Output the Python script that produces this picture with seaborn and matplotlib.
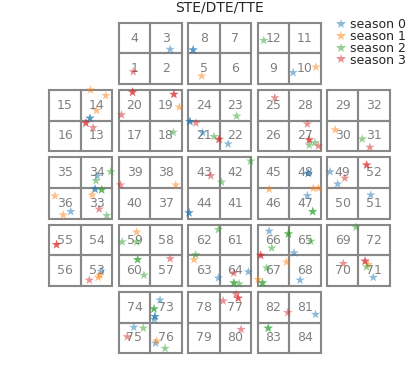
import numpy as np
import pandas as pd
import matplotlib
matplotlib.use("Agg")
import matplotlib.pyplot as plt
from matplotlib.patches import Rectangle
import seaborn as sns

sns.set_style("white")
plt.rcParams['font.family'] = ['DejaVu Sans']

# ---- module layout: rows of 2x2 blocks, labels [top-left, top-right, bottom-left, bottom-right]
block_rows = [
    [None, [4, 3, 1, 2], [8, 7, 5, 6], [12, 11, 9, 10], None],
    [[15, 14, 16, 13], [20, 19, 17, 18], [24, 23, 21, 22], [25, 28, 26, 27], [29, 32, 30, 31]],
    [[35, 34, 36, 33], [39, 38, 40, 37], [43, 42, 44, 41], [45, 48, 46, 47], [49, 52, 50, 51]],
    [[55, 54, 56, 53], [59, 58, 60, 57], [62, 61, 63, 64], [66, 65, 67, 68], [69, 72, 70, 71]],
    [None, [74, 73, 75, 76], [78, 77, 79, 80], [82, 81, 83, 84], None],
]

# ---- hit positions per season (grid units)
s0_x = [3.83, 4.56, 4.56, 7.73, 1.29, 1.29, 4.46, 4.46, 4.86, 5.67, 1.52, 1.45, 1.45, 0.68,
        4.43, 4.43, 8.21, 8.21, 8.18, 8.90, 9.14, 10.19, 1.64, 5.36, 6.31, 6.97, 7.76, 7.95,
        10.27, 3.51, 3.35, 3.35, 3.33, 2.68, 3.37, 8.44]
s0_y = [9.93, 9.91, 9.91, 9.17, 7.68, 7.68, 7.57, 7.57, 7.21, 6.84, 5.79, 5.36, 5.36, 4.63,
        4.59, 4.59, 5.88, 5.88, 5.15, 5.93, 5.53, 5.17, 2.68, 2.46, 2.66, 3.99, 3.28, 2.39,
        2.48, 1.74, 1.20, 1.20, 1.11, 0.85, 0.33, 1.27]

s1_x = [4.83, 8.45, 1.31, 1.79, 1.50, 4.12, 9.06, 1.36, 0.18, 0.44, 4.01, 6.97, 8.37, 8.53,
        1.55, 1.61, 2.77, 4.59, 7.52, 6.62, 10.11, 3.40]
s1_y = [9.06, 9.35, 8.60, 8.42, 7.93, 8.04, 7.30, 5.17, 5.14, 4.52, 5.50, 5.36, 5.39, 5.39,
        2.48, 2.55, 3.96, 3.06, 2.98, 2.41, 2.90, 0.40]

s2_x = [6.80, 3.93, 5.22, 5.94, 8.24, 8.42, 9.92, 1.95, 1.48, 1.66, 1.66, 1.82, 5.46, 6.38,
        8.35, 8.35, 2.31, 2.77, 2.80, 2.80, 3.00, 5.36, 4.64, 5.85, 5.85, 6.02, 7.58, 7.58,
        7.05, 8.29, 6.89, 6.76, 6.76, 9.72, 10.06, 3.32, 3.32, 2.98, 3.67, 6.94, 6.94]
s2_y = [10.22, 7.22, 7.08, 7.75, 6.80, 6.88, 7.00, 5.93, 5.64, 5.34, 5.34, 4.50, 5.59, 6.28,
        4.63, 4.63, 3.64, 3.64, 3.06, 3.06, 2.55, 4.04, 3.22, 2.30, 2.30, 2.27, 3.90, 3.90,
        3.44, 3.66, 2.79, 2.30, 2.30, 4.12, 2.82, 1.45, 1.45, 0.82, 0.16, 0.82, 0.82]

s3_x = [2.66, 1.16, 1.16, 1.39, 2.64, 2.64, 2.29, 3.95, 3.95, 4.65, 5.38, 5.38, 7.15, 8.18,
        8.24, 8.24, 8.53, 10.16, 1.58, 2.26, 5.12, 10.06, 10.06, 9.37, 0.23, 0.23, 1.27, 3.83,
        5.85, 6.70, 6.70, 9.32, 10.01, 10.01, 2.47, 5.51, 5.92, 5.99, 5.99, 6.08, 7.56]
s3_y = [9.20, 7.52, 7.52, 7.37, 8.53, 8.53, 7.79, 8.46, 8.46, 7.52, 6.99, 6.99, 8.35, 7.49,
        6.97, 6.97, 6.77, 6.73, 4.71, 5.50, 5.80, 6.15, 6.15, 5.72, 3.55, 3.55, 2.39, 3.09,
        2.62, 3.20, 3.20, 2.93, 3.01, 3.01, 0.54, 1.71, 1.93, 1.80, 1.80, 0.78, 1.33]

seasons = ["season 0", "season 1", "season 2", "season 3"]
xs = [s0_x, s1_x, s2_x, s3_x]
ys = [s0_y, s1_y, s2_y, s3_y]

df = pd.concat([pd.DataFrame({"x": x, "y": y, "season": s}) for x, y, s in zip(xs, ys, seasons)],
               ignore_index=True)

fig = plt.figure(figsize=(4.07, 3.77), dpi=100)
ax = fig.add_axes([49.3 / 407, 23.7 / 377, 340.7 / 407, 330.6 / 377])

pitch = 2.2
nrows = len(block_rows)
for r, row in enumerate(block_rows):
    for c, labels in enumerate(row):
        if labels is None:
            continue
        x0 = c * pitch
        y0 = (nrows - 1 - r) * pitch
        cells = [(x0, y0 + 1), (x0 + 1, y0 + 1), (x0, y0), (x0 + 1, y0)]
        for (cx, cy), lab in zip(cells, labels):
            ax.add_patch(Rectangle((cx, cy), 1, 1, fill=False, ec="#888888", lw=1.5,
                                   clip_on=False, zorder=1))
            ax.text(cx + 0.5, cy + 0.5, str(lab), ha="center", va="center",
                    fontsize=9, color="#808080", zorder=2)

sns.scatterplot(data=df, x="x", y="y", hue="season", hue_order=seasons,
                palette=sns.color_palette("tab10", 4), marker="*", s=50,
                alpha=0.5, linewidth=0, ax=ax, zorder=3)

ax.set_xlim(0, 10.8)
ax.set_ylim(0, 10.8)
ax.set_axis_off()
ax.set_title("STE/DTE/TTE", fontsize=10, pad=8)

sns.move_legend(ax, "upper left", bbox_to_anchor=(335 / 407, 1 - 18.5 / 377),
                bbox_transform=fig.transFigure, frameon=False, title=None,
                fontsize=9, handlelength=1.0, handletextpad=0.2, labelspacing=-0.1,
                borderpad=0, borderaxespad=0, markerscale=1.0)

fig.savefig("out.png", dpi=100)
